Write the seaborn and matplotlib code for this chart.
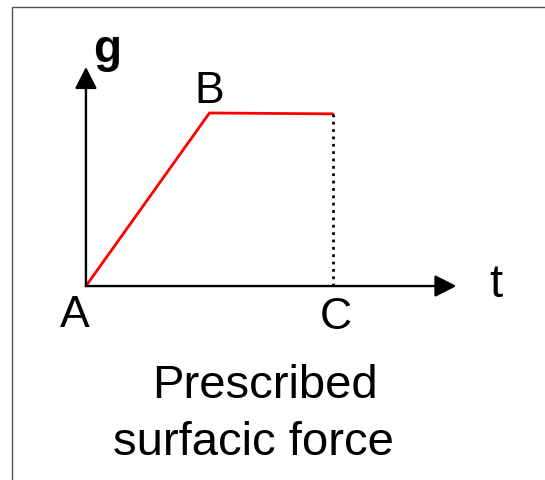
import matplotlib
matplotlib.use("Agg")
import matplotlib.pyplot as plt
import seaborn as sns

# --- data ---
t_points = [0, 1, 2]          # A, B, C on the t axis
g_values = [0, 1.0, 0.995]    # load ramp then plateau
point_labels = ["A", "B", "C"]
axis_labels = ["t", "g"]
caption_lines = ["Prescribed", "surfacic force"]

sns.set_theme(style="white")
plt.rcParams['font.family'] = ['Liberation Sans', 'DejaVu Sans']
plt.rcParams['text.color'] = 'black'

fig = plt.figure(figsize=(5.45, 4.8), dpi=100)
ax = fig.add_axes([0, 0, 1, 1])
ax.set_xlim(-0.696, 3.717)
ax.set_ylim(-1.121, 1.653)
ax.axis('off')

# axes as arrows
arrow = dict(arrowstyle='-|>,head_length=0.55,head_width=0.28', color='black',
             lw=1.7, mutation_scale=24, shrinkA=0, shrinkB=0)
ax.annotate('', xy=(3.0, 0), xytext=(0, 0), arrowprops=arrow)
ax.annotate('', xy=(0, 1.266), xytext=(0, 0), arrowprops=arrow)

# red load curve
sns.lineplot(x=t_points, y=g_values, color='red', lw=2, sort=False, ax=ax)
# dotted drop at C
ax.plot([t_points[2], t_points[2]], [0, g_values[2]], ls=':', color='black', lw=2)

# point labels
offsets = [(-7.9, -29.5), (0, 7.2), (2.2, -31)]
for t, g, lab, off in zip(t_points, g_values, point_labels, offsets):
    ax.annotate(lab, xy=(t, 0 if lab != "B" else g), xytext=off, textcoords='offset points',
                ha='center', va='baseline', fontsize=32, color='black')

ax.annotate(axis_labels[0], xy=(3.0, 0), xytext=(28, -7.9), textcoords='offset points',
            ha='center', va='baseline', fontsize=34, color='black')
ax.annotate(axis_labels[1], xy=(0, 1.266), xytext=(15.1, 3.6), textcoords='offset points',
            ha='center', va='baseline', fontsize=33, fontweight='bold', color='black')

# caption
fig.text(265 / 545, 1 - 398 / 480, caption_lines[0], ha='center', va='baseline',
         fontsize=34, color='black')
fig.text(253 / 545, 1 - 455 / 480, caption_lines[1], ha='center', va='baseline',
         fontsize=34, color='black')

# frame around the picture (open on right/bottom)
fig.add_artist(plt.Rectangle((12 / 545, -0.05), 1.0, (480 - 7) / 480 + 0.05,
                             transform=fig.transFigure, fill=False, ec='#505050', lw=1))

fig.savefig("out.png", dpi=100)
